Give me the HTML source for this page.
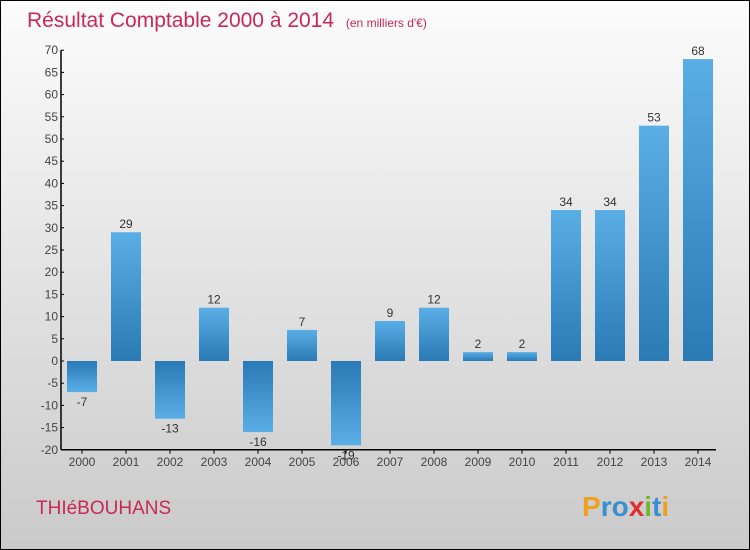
<!DOCTYPE html>
<html><head><meta charset="utf-8"><style>
html,body{margin:0;padding:0}
body{width:750px;height:550px;overflow:hidden;font-family:"Liberation Sans",sans-serif}
#wrap{position:absolute;left:0;top:0;width:748px;height:548px;border:1px solid #000;background:linear-gradient(#fcfcfc,#cacaca)}
</style></head><body>
<div id="wrap">
<svg id="chart" width="750" height="550" style="position:absolute;left:-1px;top:-1px">
<defs>
<linearGradient id="gp" x1="0" y1="0" x2="0" y2="1"><stop offset="0" stop-color="#5aaee6"/><stop offset="1" stop-color="#2a7ab5"/></linearGradient>
<linearGradient id="gn" x1="0" y1="0" x2="0" y2="1"><stop offset="0" stop-color="#2a7ab5"/><stop offset="1" stop-color="#5aaee6"/></linearGradient>
</defs>
<text x="27" y="27" font-size="21" fill="#c8285a">Résultat Comptable 2000 à 2014 <tspan font-size="12" dx="6">(en milliers d'€)</tspan></text>
<text x="36" y="514" font-size="19" fill="#c8285a">THIéBOUHANS</text>
<text x="582" y="516" font-size="28" font-weight="bold"><tspan fill="#f0a020">P</tspan><tspan fill="#3a8fd0">ro</tspan><tspan fill="#e03030">x</tspan><tspan fill="#70b830">i</tspan><tspan fill="#3a8fd0">t</tspan><tspan fill="#f0a020">i</tspan></text>
<g id="g"></g>
</svg>
</div>
<script>
const categories=["2000","2001","2002","2003","2004","2005","2006","2007","2008","2009","2010","2011","2012","2013","2014"];
const values=[-7,29,-13,12,-16,7,-19,9,12,2,2,34,34,53,68];
const yTicks=[-20,-15,-10,-5,0,5,10,15,20,25,30,35,40,45,50,55,60,65,70];
const NS="http://www.w3.org/2000/svg";
const g=document.getElementById('g');
const y=v=>361-v*4.44;
const x=i=>82+i*44;
function mk(t,a){const e=document.createElementNS(NS,t);for(const k in a)e.setAttribute(k,a[k]);g.appendChild(e);return e;}
const ax=mk('line',{x1:61,y1:y(70),x2:61,y2:y(-20),stroke:'#000','stroke-width':1.5});


const bx=mk('line',{x1:61,y1:y(-20),x2:716,y2:y(-20),stroke:'#000','stroke-width':1.5});


yTicks.forEach(v=>{
 const t=mk('line',{x1:61,y1:y(v),x2:64,y2:y(v),stroke:'#000'});
 
 
 const l=mk('text',{x:58,y:y(v)+4,'font-size':12,fill:'#444','text-anchor':'end'});
 l.textContent=v;
 
 
});
categories.forEach((c,i)=>{
 const v=values[i];
 const t=mk('line',{x1:x(i),y1:y(-20),x2:x(i),y2:y(-20)+4,stroke:'#000'});
 
 
 const l=mk('text',{x:x(i),y:y(-20)+16,'font-size':12,fill:'#444','text-anchor':'middle'});
 l.textContent=c;
 
 
 const top=Math.min(y(v),y(0)),h=Math.abs(y(v)-y(0));
 const b=mk('rect',{x:x(i)-15,y:top,width:30,height:h,fill:v>=0?'url(#gp)':'url(#gn)'});
 
 
 const vl=mk('text',{x:x(i),y:v>=0?y(v)-4:y(v)+14,'font-size':12,fill:'#333','text-anchor':'middle'});
 vl.textContent=v;
 
 
});
</script>
</body></html>
